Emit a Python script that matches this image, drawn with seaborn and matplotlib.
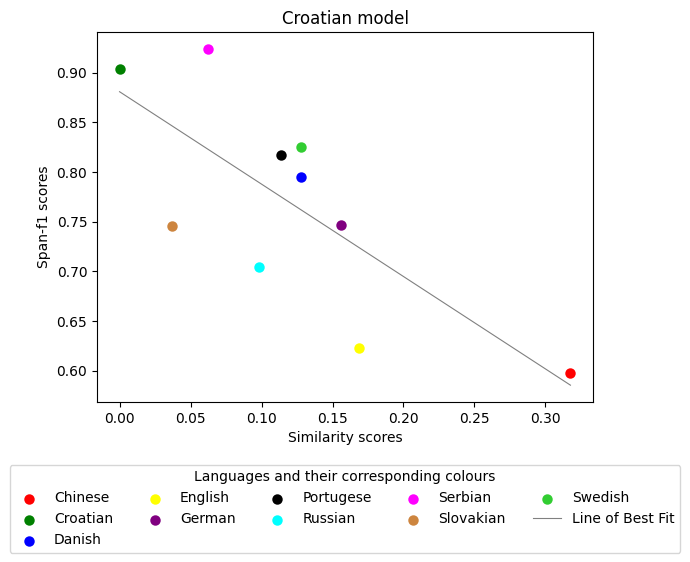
import numpy as np
import matplotlib
matplotlib.use("Agg")
import matplotlib.pyplot as plt
import seaborn as sns

# values
languages = ['Chinese', 'Croatian', 'Danish', 'English', 'German',
             'Portugese', 'Russian', 'Serbian', 'Slovakian', 'Swedish']
similarity = [0.3176, 0.0, 0.128, 0.169, 0.156, 0.114, 0.098, 0.062, 0.037, 0.128]
span_f1 = [0.598, 0.904, 0.795, 0.623, 0.747, 0.817, 0.705, 0.924, 0.746, 0.825]
colours = ['red', 'green', 'blue', 'yellow', 'purple',
           'black', 'cyan', 'magenta', 'peru', 'limegreen']

fig = plt.figure(figsize=(6.9, 5.62), dpi=100)
ax = fig.add_axes([0.1406, 0.2847, 0.7188, 0.6584])

for lang, x, y, c in zip(languages, similarity, span_f1, colours):
    sns.scatterplot(x=[x], y=[y], color=c, s=36, edgecolor=c, linewidth=1.5,
                    label=lang, ax=ax)

# line of best fit
slope, intercept = np.polyfit(similarity, span_f1, 1)
xs = np.array([min(similarity), max(similarity)])
ax.plot(xs, slope * xs + intercept, color='grey', linewidth=0.8, label='Line of Best Fit')

ax.set_title('Croatian model')
ax.set_xlabel('Similarity scores')
ax.set_ylabel('Span-f1 scores')

ax.legend(loc='upper center', bbox_to_anchor=(0.5, -0.151), ncol=5,
          title='Languages and their corresponding colours')

fig.savefig('out.png', dpi=100)
